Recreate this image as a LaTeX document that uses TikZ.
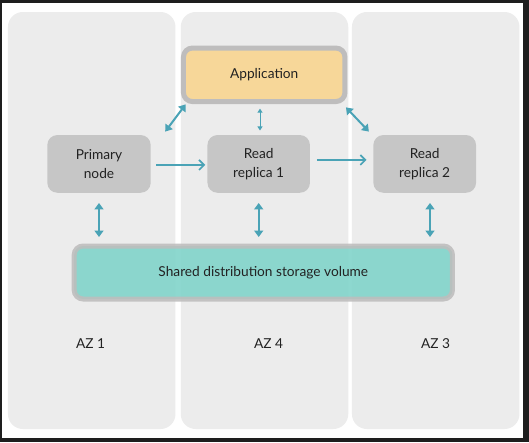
\documentclass[tikz,border=0pt]{standalone}
\usepackage{fontspec}
\setmainfont{Lato}
\usetikzlibrary{arrows.meta}

\definecolor{framedark}{HTML}{1E1E1E}
\definecolor{azgray}{HTML}{ECECEC}
\definecolor{boxgray}{HTML}{C6C6C6}
\definecolor{rimgray}{HTML}{BEBDBD}
\definecolor{appyellow}{HTML}{F7D799}
\definecolor{storeteal}{HTML}{7ED3C9}
\definecolor{linkblue}{HTML}{4AA3B6}
\definecolor{inkgray}{HTML}{222222}

\begin{document}
\begin{tikzpicture}[x=1pt,y=-1pt]

      % screenshot frame
      \fill[framedark] (0,0) rectangle (529,442);
      \fill[white] (2,3) rectangle (523,438);
      \useasboundingbox (0,0) rectangle (529,442);

      % availability zones
      \begin{scope}[every node/.style={fill=azgray, rounded corners=15pt, inner sep=0pt,
          minimum width=167.5pt, minimum height=417pt}]
        \node (c1) at (91.7,220.5)  {};
        \node (c2) at (264.5,220.5) {};
        \node (c3) at (435.7,220.5) {};
      \end{scope}

      \begin{scope}[every node/.style={text=inkgray, font=\fontsize{13.7}{18.5}\selectfont, align=center}]
        \node (app)   at (264.2,74.8)  [fill=appyellow, draw=rimgray, line width=5pt, rounded corners=9pt,
                                        minimum width=161.5pt, minimum height=53.5pt] {Application};
        \node (prim)  at (99,163.9)    [fill=boxgray, rounded corners=10pt, minimum width=103.4pt, minimum height=57.7pt] {Primary\\node};
        \node (rep1)  at (258.7,163.9) [fill=boxgray, rounded corners=10pt, minimum width=102.5pt, minimum height=57.7pt] {Read\\replica 1};
        \node (rep2)  at (424.7,163.9) [fill=boxgray, rounded corners=10pt, minimum width=102.7pt, minimum height=57.7pt] {Read\\replica 2};
        \node (store) at (263.3,272.5) [fill=storeteal, draw=rimgray, line width=5pt, rounded corners=9pt, opacity=.88, text opacity=1,
                                        minimum width=378.3pt, minimum height=53pt] {Shared distribution storage volume};
        \node (az1)   at (90.5,343.5)  {AZ 1};
        \node (az4)   at (268.5,343.5) {AZ 4};
        \node (az3)   at (435.6,343.5) {AZ 3};
      \end{scope}

      \coordinate (m1) at ([xshift=1.3pt]rep1.north);
      \coordinate (v3) at ([xshift=5.3pt]rep2.south);

      \begin{scope}[every edge/.style={draw=linkblue, line width=2pt, {Triangle[length=6.5pt,width=9pt]}-{Triangle[length=6.5pt,width=9pt]}}]
        \path ([xshift=14.3pt,yshift=3.3pt]prim.north east) edge ([xshift=4.7pt,yshift=-.3pt]app.south west);
        \path ([xshift=-1.5pt,yshift=-3.3pt]app.south east) edge ([xshift=-4.3pt,yshift=3.3pt]rep2.north west);
        \path (prim.south) edge[shorten <=10pt, shorten >=6.5pt] (prim.south |- store.north);
        \path (rep1.south) edge[shorten <=10pt, shorten >=6.5pt] (rep1.south |- store.north);
        \path (v3) edge[shorten <=10pt, shorten >=6.5pt] (v3 |- store.north);
        \path (m1) edge[line width=1pt, {Triangle[length=4pt,width=5pt]}-{Triangle[length=4pt,width=5pt]},
                        shorten <=4.4pt, shorten >=4.6pt] (m1 |- app.south);
      \end{scope}

      \begin{scope}[every edge/.style={draw=linkblue, line width=1.7pt, -{Straight Barb[length=5pt,width=10pt]}}]
        \path ([yshift=-1pt]prim.east) edge[shorten <=5.3pt, shorten >=2pt] ([yshift=-1pt]rep1.west);
        \path ([yshift=4pt]rep1.east)  edge[shorten <=6.7pt, shorten >=6.6pt] ([yshift=4pt]rep2.west);
      \end{scope}

    \end{tikzpicture}
\end{document}
